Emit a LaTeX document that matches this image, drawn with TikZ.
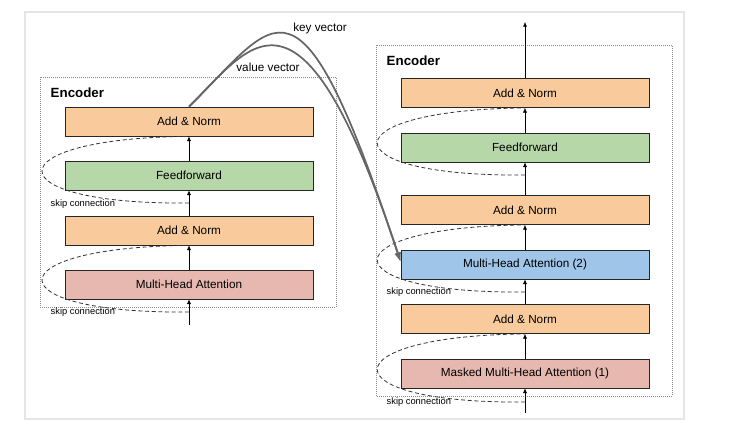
\documentclass[tikz,border=0pt]{standalone}
\usepackage{fontspec}
\setmainfont{Liberation Sans}
\usetikzlibrary{arrows.meta}
\definecolor{normfill}{HTML}{F9CB9C}
\definecolor{ffnfill}{HTML}{B6D7A8}
\definecolor{attfill}{HTML}{E6B8AF}
\definecolor{crossfill}{HTML}{9FC5E8}
\begin{document}
\begin{tikzpicture}[x=0.75pt, y=-0.75pt, >={Latex[length=3.5pt,width=3pt]},
    every node/.style={font=\fontsize{8.8}{10}\selectfont},
    block/.style={draw=black!85, line width=0.6pt, minimum width=186pt,
      minimum height=21.75pt, inner sep=0pt},
    normbox/.style={block, fill=normfill},
    ffnbox/.style={block, fill=ffnfill},
    attbox/.style={block, fill=attfill},
    crossbox/.style={block, fill=crossfill},
    skip/.style={densely dashed, black!80, line width=0.6pt},
    frame/.style={densely dotted, black!45, line width=0.5pt},
    vec/.style={line width=1.3pt, black!60, -{Latex[length=7pt,width=5pt]}},
    title/.style={anchor=west, font=\fontsize{10}{12}\selectfont\bfseries},
    skiplabel/.style={anchor=west, font=\fontsize{7}{8}\selectfont}]
  \useasboundingbox (0,0) rectangle (744,428);
  \draw[black!10, line width=0.8pt] (25,12) rectangle (684,419);

  % Left encoder
  \draw[frame] (40,77) rectangle (336,307);
  \node[title] (enc1) at (46,93) {Encoder};
  \node[attbox] (latt) at (189,284.5) {Multi-Head Attention};
  \node[normbox] (lnorm1) at (189,230.5) {Add \& Norm};
  \node[ffnbox] (lffn) at (189,175.5) {Feedforward};
  \node[normbox] (lnorm2) at (189,121.5) {Add \& Norm};
  \coordinate (lin) at (189,325);
  \coordinate (ls1) at (189,312);
  \coordinate (ls2) at (189,203);
  \draw[->] (lin) -- (latt.south);
  \draw[->] (latt.north) -- (lnorm1.south);
  \draw[->] (lnorm1.north) -- (lffn.south);
  \draw[->] (lffn.north) -- (lnorm2.south);
  \draw[skip] (ls1) .. controls (-7,314) and (-7,247) .. (lnorm1.south);
  \draw[skip] (ls2) .. controls (-7,205) and (-7,138) .. (lnorm2.south);
  \node[skiplabel] (lsk1) at (46,312) {skip connection};
  \node[skiplabel] (lsk2) at (46,204) {skip connection};

  % Right encoder
  \draw[frame] (376,45) rectangle (672,396);
  \node[title] (enc2) at (382,61) {Encoder};
  \node[attbox] (ratt) at (525,373.5) {Masked Multi-Head Attention (1)};
  \node[normbox] (rnorm1) at (525,319) {Add \& Norm};
  \node[crossbox] (rcross) at (525,264.5) {Multi-Head Attention (2)};
  \node[normbox] (rnorm2) at (525,210) {Add \& Norm};
  \node[ffnbox] (rffn) at (525,147.5) {Feedforward};
  \node[normbox] (rnorm3) at (525,93) {Add \& Norm};
  \coordinate (rin) at (525,413);
  \coordinate (rout) at (525,22);
  \coordinate (rs1) at (525,402);
  \coordinate (rs2) at (525,292);
  \coordinate (rs3) at (525,175);
  \draw[->] (rin) -- (ratt.south);
  \draw[->] (ratt.north) -- (rnorm1.south);
  \draw[->] (rnorm1.north) -- (rcross.south);
  \draw[->] (rcross.north) -- (rnorm2.south);
  \draw[->] (rnorm2.north) -- (rffn.south);
  \draw[->] (rffn.north) -- (rnorm3.south);
  \draw[->] (rnorm3.north) -- (rout);
  \draw[skip] (rs1) .. controls (328,404) and (328,336) .. (rnorm1.south);
  \draw[skip] (rs2) .. controls (328,294) and (328,227) .. (rnorm2.south);
  \draw[skip] (rs3) .. controls (328,177) and (328,110) .. (rnorm3.south);
  \node[skiplabel] (rsk1) at (382,402) {skip connection};
  \node[skiplabel] (rsk2) at (382,292) {skip connection};

  % Key and value vectors
  \draw[vec] (lnorm2.north) .. controls (278,19) and (298,-48) .. ([yshift=2pt]rcross.west);
  \draw[vec] (lnorm2.north) .. controls (250,47) and (300,-44) .. ([yshift=2pt]rcross.west);
  \node (keylbl) at (320,28) {key vector};
  \node (vallbl) at (268,67) {value vector};
\end{tikzpicture}
\end{document}
